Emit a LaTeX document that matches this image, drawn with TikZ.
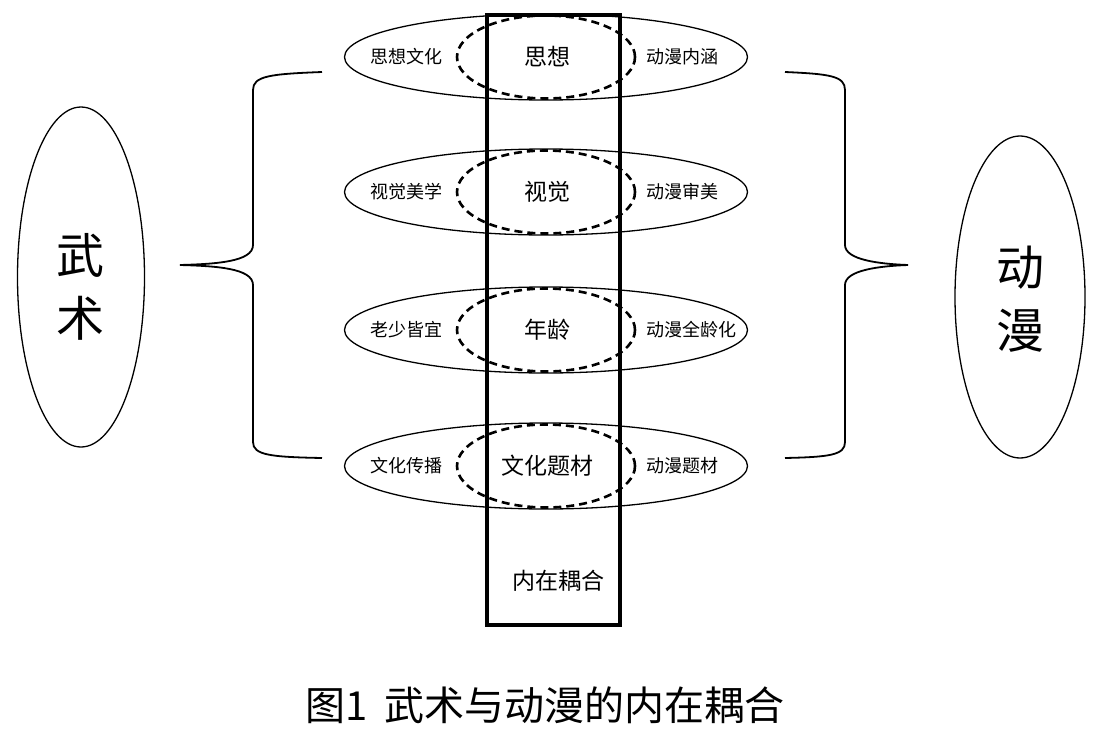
\documentclass[tikz,border=0pt]{standalone}
\usepackage{fontspec}
\setmainfont{Noto Sans CJK SC}
\usetikzlibrary{shapes.geometric}
\begin{document}
\begin{tikzpicture}[x=1pt,y=-1pt,
  outerell/.style={draw, ellipse, line width=1.3pt, minimum width=403pt, minimum height=86pt, inner sep=0pt},
  dashell/.style={draw, ellipse, line width=2.6pt, dash pattern=on 8pt off 5pt, minimum width=178pt, minimum height=83pt, inner sep=0pt},
  bigell/.style={draw, ellipse, line width=1.3pt, inner sep=0pt},
  lbl/.style={inner sep=0pt, font=\fontsize{18}{20}\selectfont},
  clbl/.style={inner sep=0pt, font=\fontsize{23}{26}\selectfont},
  biglbl/.style={inner sep=0pt, align=center, font=\fontsize{48}{63}\selectfont},
  bracestyle/.style={line width=1.8pt},
  boxstyle/.style={draw, line width=4pt, inner sep=0pt, minimum width=133pt, minimum height=610pt}
]
\useasboundingbox (0,0) rectangle (1095,731);

% rows
\foreach \i/\y/\l/\c/\r in {1/57/思想文化/思想/动漫内涵, 2/192/视觉美学/视觉/动漫审美, 3/330/老少皆宜/年龄/动漫全龄化, 4/466/文化传播/文化题材/动漫题材}{
  \node[outerell] (o\i) at (546,\y) {};
  \node[dashell] (d\i) at (546,\y) {};
  \node[lbl] (l\i) at (406,\y) {\l};
  \node[clbl] (c\i) at (547,\y) {\c};
  \node[lbl, anchor=west] (r\i) at (646,\y) {\r};
}

\node[boxstyle] (box) at (553.5,320) {};
\node[clbl] (nz) at (558,581) {内在耦合};

% big ellipses
\node[bigell, minimum width=127pt, minimum height=340pt] (wsell) at (81,277) {};
\node[biglbl] (ws) at (80,287) {武\\术};
\node[bigell, minimum width=130pt, minimum height=322pt] (dmell) at (1020,297) {};
\node[biglbl] (dm) at (1020,299) {动\\漫};

% left brace
\coordinate (lbt) at (322,72);
\coordinate (lbm) at (180,265);
\coordinate (lbb) at (322,458);
\draw[bracestyle] (lbt) .. controls (270,74) and (253,76) .. (253,90)
  -- (253,245) .. controls (253,262) and (215,264) .. (lbm)
  .. controls (215,266) and (253,268) .. (253,285)
  -- (253,442) .. controls (253,455) and (270,457) .. (lbb);

% right brace
\coordinate (rbt) at (785,72);
\coordinate (rbm) at (908,265);
\coordinate (rbb) at (785,458);
\draw[bracestyle] (rbt) .. controls (830,74) and (845,76) .. (845,90)
  -- (845,245) .. controls (845,260) and (880,264) .. (rbm)
  .. controls (880,266) and (845,270) .. (845,285)
  -- (845,442) .. controls (845,455) and (830,457) .. (rbb);

% caption
\node[inner sep=0pt, font=\fontsize{40}{44}\selectfont] (cap) at (545,705) {图1\hspace{0.4em}武术与动漫的内在耦合};
\end{tikzpicture}
\end{document}
